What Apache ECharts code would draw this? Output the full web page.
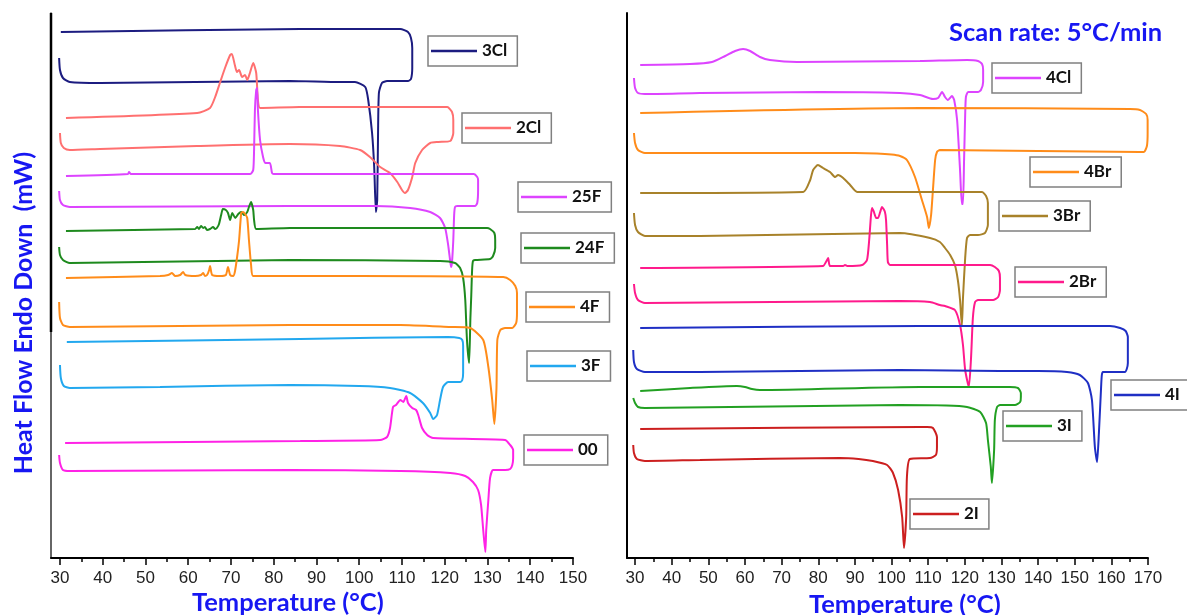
<!DOCTYPE html>
<html>
<head>
<meta charset="utf-8">
<title>DSC thermograms</title>
<script src="https://cdn.jsdelivr.net/npm/echarts@6/dist/echarts.min.js"></script>
<style>
html, body { margin: 0; padding: 0; background: #fff; }
#chart { width: 1187px; height: 615px; }
</style>
</head>
<body>
<div id="chart"></div>
<script>
// tick labels
const leftTicks = [30, 40, 50, 60, 70, 80, 90, 100, 110, 120, 130, 140, 150];
const rightTicks = [30, 40, 50, 60, 70, 80, 90, 100, 110, 120, 130, 140, 150, 160, 170];

// [temperature °C, heat flow (a.u., stacked offset)] - heating run, then cooling run back
const s3Cl = [[29.8,500],[30.0,488],[30.7,480],[32.3,476],[39.4,475],[83.8,477],[95.5,476],[99.0,476],[101.4,471],[102.1,458],[103.0,425],[103.5,391],[103.9,346],[104.2,358],[104.4,425],[104.6,465],[105.3,475],[106.5,477],[111.4,477],[112.1,479],[112.4,490],[112.4,510],[112.1,520],[111.4,526],[109.6,529],[86.2,529],[30.2,526]];
const s2Cl = [[30.0,425],[30.2,415],[30.9,410],[32.3,408],[39.4,409],[62.0,412],[83.8,414],[95.5,412],[100.2,408],[102.5,401],[104.9,391],[107.2,385],[108.9,376],[110.0,368],[110.7,365],[111.4,368],[112.4,381],[113.1,395],[114.7,408],[116.6,415],[118.5,416],[121.3,417],[122.0,425],[122.0,438],[121.7,446],[120.6,451],[118.2,451],[100.0,451],[86.0,451],[76.8,450],[76.3,458],[75.9,485],[75.2,495],[74.5,486],[73.8,478],[73.3,483],[72.6,481],[71.9,488],[71.4,486],[70.9,493],[70.2,504],[69.8,503],[68.6,490],[67.4,475],[66.3,461],[65.1,450],[62.1,445],[31.4,440]];
const s25F = [[29.8,367],[30.0,358],[30.7,353],[32.3,351],[83.8,352],[103.7,352],[111.9,350],[116.6,346],[118.9,340],[120.1,330],[120.8,313],[121.3,296],[121.5,291],[121.7,296],[122.0,318],[122.2,343],[122.4,351],[122.9,352],[127.1,352],[127.6,355],[127.8,368],[127.8,378],[127.6,381],[126.8,384],[125.9,384],[100.0,384],[80.0,384],[79.6,385],[79.1,395],[78.0,395],[77.5,401],[76.8,418],[76.3,448],[76.1,470],[75.9,468],[75.6,448],[75.4,408],[75.2,388],[74.5,384],[46.6,384],[46.15,386],[45.9,384],[31.4,382]];
const s24F = [[29.8,311],[30.0,303],[30.7,298],[32.3,295],[83.8,298],[118.9,297],[122.4,295],[123.6,290],[124.3,280],[124.8,258],[125.2,218],[125.7,195],[126.0,240],[126.2,262],[126.4,288],[126.6,297],[127.1,298],[130.6,299],[131.3,302],[131.8,310],[131.8,318],[131.6,325],[130.6,329],[129.9,330],[100.0,330],[83.8,330],[75.9,329],[75.4,338],[75.2,348],[74.7,356],[74.2,351],[73.8,346],[73.1,343],[72.4,346],[71.7,344],[71.0,340],[70.3,345],[69.8,338],[69.3,345],[68.8,348],[68.1,349],[67.7,343],[67.2,334],[66.7,330],[66.3,329],[65.8,331],[65.1,329],[64.4,328],[63.9,331],[63.5,330],[63.0,332],[62.5,329],[62.1,331],[61.6,329],[31.4,327]];
const s4F = [[29.8,256],[30.0,240],[30.7,233],[32.3,231],[83.8,233],[109.6,233],[121.3,231],[125.9,230],[129.0,218],[130.2,191],[131.1,158],[131.6,134],[132.1,170],[132.3,218],[133.0,228],[134.1,230],[135.8,230],[136.7,235],[136.9,245],[136.9,265],[136.5,272],[135.3,278],[133.7,281],[100.0,282],[83.8,282],[75.2,282],[74.7,293],[74.2,318],[73.8,340],[73.3,344],[72.8,346],[72.4,345],[71.9,318],[71.4,300],[70.9,286],[70.5,282],[69.8,283],[69.3,291],[68.8,283],[67.4,282],[65.6,283],[65.1,292],[64.9,288],[64.4,283],[63.9,282],[63.5,285],[63.0,283],[61.6,282],[59.3,283],[58.8,286],[58.1,283],[56.9,282],[56.2,285],[55.3,283],[53.4,282],[31.4,280]];
const s3F = [[30.0,193],[30.2,180],[30.9,172],[32.3,170],[53.4,171],[83.8,173],[100.0,172],[107.2,170],[111.9,165],[114.9,155],[116.6,145],[117.3,139],[118.2,143],[118.9,158],[119.6,171],[120.8,176],[123.6,176],[124.1,178],[124.3,185],[124.3,212],[124.1,218],[123.4,220],[120.8,221],[86.2,219],[31.6,216]];
const s00 = [[29.8,103],[30.0,95],[30.7,88],[32.3,87],[83.8,88],[109.6,87],[121.3,85],[124.8,82],[126.6,76],[127.8,68],[128.5,53],[129.0,28],[129.5,6],[129.7,28],[130.2,58],[130.6,80],[131.3,88],[134.1,88],[135.3,89],[135.8,93],[136.0,100],[136.0,108],[135.3,113],[134.1,118],[117.3,120],[115.9,123],[114.7,130],[113.8,143],[113.3,148],[112.4,150],[111.4,155],[111.0,162],[110.3,156],[109.6,158],[108.6,153],[107.9,151],[107.2,130],[106.5,121],[104.9,118],[86.2,117],[31.2,115]];

const s4Cl = [[29.7,480],[30.0,470],[30.8,465],[32.7,464],[47.7,465],[80.5,466],[102.3,465],[107.8,463],[111.3,459],[112.7,460],[113.8,466],[114.6,461],[115.4,458],[116.5,462],[117.1,458],[117.9,438],[118.7,388],[119.2,354],[119.5,354],[119.8,398],[120.1,443],[120.3,461],[120.9,466],[123.6,466],[124.4,468],[125.0,476],[125.0,488],[124.7,494],[123.6,497],[120.6,498],[107.8,497],[74.2,496],[66.8,498],[64.1,501],[61.4,507],[59.5,509],[57.3,507],[54.6,502],[51.0,496],[45.0,494],[31.4,493]];
const s4Br = [[29.7,425],[30.0,415],[30.8,408],[32.7,405],[90.0,405],[96.0,404.5],[100.0,403.5],[102.3,402],[104.2,398],[106.4,381],[108.3,358],[109.7,341],[110.2,330],[110.8,343],[111.3,368],[111.9,398],[112.4,406],[113.2,408],[140.0,407],[167.8,406],[168.9,406],[169.7,412],[169.9,425],[169.9,438],[169.5,444],[167.8,448],[165.1,449],[107.8,450],[31.4,445]];
const s3Br = [[29.7,345],[30.0,333],[30.8,326],[32.7,322],[47.7,322],[102.3,325],[110.5,320],[113.2,316],[114.6,310],[116.0,303],[117.3,293],[118.1,278],[118.7,258],[119.2,232],[119.5,260],[120.1,300],[120.6,320],[121.4,323],[123.6,323],[125.5,325],[126.3,333],[126.3,355],[125.8,362],[124.7,366],[122.8,366],[90.6,366],[88.7,373],[86.8,380],[85.4,383],[84.6,381],[83.2,386],[81.3,390],[79.9,393],[78.6,388],[77.8,378],[75.9,366],[31.4,365]];
const s2Br = [[29.7,274],[30.0,265],[30.8,258],[32.7,255],[102.3,257],[110.5,256],[113.2,253],[114.6,252],[117.3,248],[118.7,233],[119.5,213],[120.1,188],[121.1,171],[121.7,200],[122.2,240],[122.8,256],[123.6,258],[127.7,258],[129.1,261],[129.6,268],[129.6,280],[129.3,287],[128.2,291],[126.9,293],[99.6,293],[99.0,296],[98.8,313],[98.5,338],[98.2,346],[97.4,351],[96.9,346],[96.3,340],[95.8,340],[95.2,346],[94.7,350],[94.4,343],[93.9,318],[93.3,298],[92.0,293],[87.9,292],[87.3,293],[86.8,292],[83.2,292],[82.7,300],[82.1,296],[81.3,292],[31.4,290]];
const s4I = [[29.5,208],[29.7,196],[30.5,189],[32.7,186],[47.7,186],[102.3,188],[129.6,187],[140.0,187],[147.9,186],[151.4,183],[153.6,175],[154.7,158],[155.5,111],[156.1,96],[156.6,125],[157.2,171],[157.4,183],[157.7,186],[163.7,186],[164.2,189],[164.5,195],[164.5,221],[163.9,227],[162.4,230],[159.6,232],[107.8,232],[31.4,230]];
const s3I = [[29.5,160],[30.0,155],[30.8,151],[32.7,150],[102.3,153],[115.0,152.5],[120.6,151],[124.2,146],[125.8,135],[126.3,118],[127.1,91],[127.4,75],[128.0,108],[128.2,138],[128.8,151],[129.6,153],[133.7,153],[135.1,156],[135.3,161],[135.3,165],[134.5,170],[132.3,171],[107.8,171],[64.1,168],[61.9,169],[60.0,171],[57.8,172],[45.0,170],[31.4,167]];
const s2I = [[29.5,113],[29.7,105],[30.5,99],[32.7,97],[47.7,98],[85.9,100],[91.0,99],[94.9,97],[98.8,93],[100.4,85],[101.8,68],[102.9,41],[103.4,10],[104.0,41],[104.2,81],[105.0,99],[110.5,100],[112.1,103],[112.4,111],[112.4,121],[111.3,130],[109.7,131],[107.8,131],[31.4,129]];

const names = ['3Cl', '2Cl', '25F', '24F', '4F', '3F', '00', '4Cl', '4Br', '3Br', '2Br', '4I', '3I', '2I'];
const curves = [s3Cl, s2Cl, s25F, s24F, s4F, s3F, s00, s4Cl, s4Br, s3Br, s2Br, s4I, s3I, s2I];
const panel = [0, 0, 0, 0, 0, 0, 0, 1, 1, 1, 1, 1, 1, 1];
const colors = ['#1c1c80', '#ff7070', '#dd44ff', '#1e8a1e', '#ff8c1a', '#22a8ef', '#ff22e6',
                '#dd44ff', '#ff8c1a', '#a8822a', '#ff1a8c', '#1f2fc4', '#22a022', '#cc1f1f'];
// legend box positions (px)
const legendPos = [[428, 36], [462, 113], [518, 182], [521, 233], [526, 292], [527, 351], [524, 435],
                   [992, 63], [1030, 157], [999, 201], [1015, 267], [1111, 380], [1003, 411], [910, 499]];

const blue = '#1717f2';
const minorOf = ticks => ticks.slice(0, -1).map(t => t + 5);

const chart = echarts.init(document.getElementById('chart'));

function xAxes(grid, min, max, ticks) {
	const base = {
		gridIndex: grid, type: 'value', min: min, max: max, position: 'bottom', offset: 0,
		splitLine: { show: false }
	};
	return [
		Object.assign({}, base, {
			axisLine: { show: true, onZero: false, lineStyle: { color: '#000', width: 2 } },
			axisTick: { show: true, customValues: ticks, length: 7, lineStyle: { color: '#000', width: 1.5 } },
			axisLabel: { show: true, customValues: ticks, margin: 12, color: '#222', fontSize: 17, fontFamily: 'Liberation Sans' }
		}),
		Object.assign({}, base, {
			axisLine: { show: false, onZero: false },
			axisTick: { show: true, customValues: minorOf(ticks), length: 4, lineStyle: { color: '#000', width: 1.5 } },
			axisLabel: { show: false }
		})
	];
}

// left panel's axis is drawn thin/grey in its lower part, dark in its upper part
const yAxis = [0, 1].map(g => ({
	gridIndex: g, type: 'value', min: 0, max: 545,
	axisLine: { show: true, onZero: false, lineStyle: { color: g === 0 ? '#333' : '#000', width: g === 0 ? 1.5 : 2 } },
	axisTick: { show: false }, axisLabel: { show: false }, splitLine: { show: false }
}));

const series = names.map((name, i) => ({
	name: name,
	type: 'line',
	xAxisIndex: panel[i] * 2,
	yAxisIndex: panel[i],
	data: curves[i],
	symbol: 'none',
	smooth: 0.2,
	clip: false,
	lineStyle: { color: colors[i], width: 2 },
	itemStyle: { color: colors[i] }
}));

const legend = names.map((name, i) => ({
	data: [name],
	left: legendPos[i][0],
	top: legendPos[i][1],
	orient: 'horizontal',
	icon: 'rect',
	itemWidth: 46,
	itemHeight: 2.5,
	padding: [6, 10, 6, 3],
	borderColor: '#808080',
	borderWidth: 1.5,
	selectedMode: false,
	textStyle: { fontFamily: 'Lato', fontWeight: 'bold', fontSize: 17, color: '#111', lineHeight: 18 }
}));

chart.setOption({
	animation: false,
	backgroundColor: '#fff',
	grid: [
		{ left: 51, top: 13, width: 522, height: 545 },
		{ left: 627, top: 13, width: 521, height: 545 }
	],
	xAxis: xAxes(0, 27.9, 150, leftTicks).concat(xAxes(1, 27.8, 170, rightTicks)),
	yAxis: yAxis,
	legend: legend,
	series: series,
	graphic: [
		{ type: 'line', shape: { x1: 51, y1: 13, x2: 51, y2: 332 }, style: { stroke: '#000', lineWidth: 2.5 }, z: 10 },
		{ type: 'text', left: 192, top: 590, style: { text: 'Temperature (°C)', font: 'bold 25.5px Lato', fill: blue } },
		{ type: 'text', left: 809, top: 592, style: { text: 'Temperature (°C)', font: 'bold 25.5px Lato', fill: blue } },
		{ type: 'text', x: 24, y: 313, rotation: Math.PI / 2,
		  style: { text: 'Heat Flow Endo Down  (mW)', font: 'bold 25px Lato', fill: blue, align: 'center', verticalAlign: 'middle' } },
		{ type: 'text', left: 949, top: 20, style: { text: 'Scan rate: 5°C/min', font: 'bold 25.5px Lato', fill: blue } }
	]
});
</script>
</body>
</html>
